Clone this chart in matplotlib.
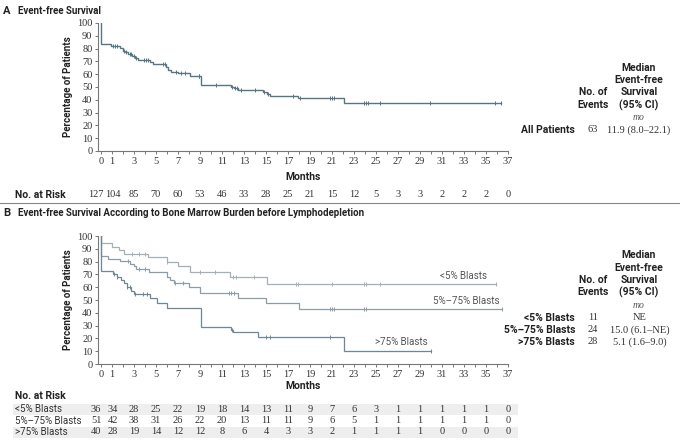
import numpy as np
import matplotlib
matplotlib.use("Agg")
import matplotlib.pyplot as plt

plt.rcParams['font.family'] = ['Roboto', 'DejaVu Sans']
SERIF = ['Liberation Serif', 'DejaVu Serif']

W, H = 680, 447

# ---- data: panel A (all patients) ----
a_times = [0, 0, 0.95, 1.7, 2.0, 2.2, 2.5, 2.8, 3.1, 3.4, 4.5, 4.7, 5.9, 6.1, 6.4, 7.0,
           8.1, 9.05, 11.8, 12.1, 12.5, 14.7, 15.1, 15.4, 17.9, 22.1, 36.4]
a_surv = [100, 83.5, 82.3, 80.2, 78.5, 77, 75.5, 74, 72.4, 71, 69.8, 67.7, 65.9, 63.3, 62,
          60.7, 58.6, 51.3, 50.2, 49, 47.4, 46.3, 44.8, 43.2, 41.3, 37.8, 37.8]
a_cens = [1.1, 1.3, 1.5, 2.1, 2.3, 2.6, 2.7, 3.0, 3.2, 3.9, 4.1, 4.3, 5.6, 5.8, 6.8, 7.3,
          7.6, 8.9, 8.95, 10.5, 11.9, 12.2, 12.4, 12.7, 14.0, 14.8, 15.2, 17.5, 18.1, 20.8,
          21.0, 21.2, 23.9, 24.1, 24.3, 25.4, 29.9, 35.8, 36.4]

# ---- data: panel B (bone marrow burden) ----
b1_times = [0, 0, 1.0, 1.6, 2.1, 4.3, 6.0, 7.0, 8.1, 11.7, 15.1, 35.9]
b1_surv = [100, 94.4, 91.7, 88.9, 86.1, 83.3, 79.9, 76.5, 72.1, 68.2, 62.7, 62.7]
b1_cens = [2.8, 3.5, 4.0, 6.0, 9.0, 10.4, 12.0, 12.3, 13.9, 17.7, 17.9, 21.0, 23.9, 24.1,
           25.4, 35.9]

b2_times = [0, 0, 0.6, 1.7, 2.6, 3.0, 3.2, 4.4, 6.0, 6.3, 6.6, 8.0, 9.0, 12.5, 15.0, 18.0, 36.5]
b2_surv = [100, 84.3, 82.4, 80.4, 78.4, 76.3, 74.3, 72.2, 68.2, 65.6, 63.5, 60.4, 55.7, 51.8,
           47.4, 43.2, 43.2]
b2_cens = [2.5, 3.5, 4.0, 6.7, 7.5, 11.6, 11.8, 12.1, 20.8, 21.0, 21.2, 23.9, 24.1, 36.5]

b3_times = [0, 0, 1.1, 1.5, 1.8, 2.1, 2.4, 2.7, 3.0, 4.5, 5.1, 6.0, 9.1, 11.8, 12.0, 14.3,
            22.1, 30.0]
b3_surv = [100, 72.5, 70.4, 68.2, 65.6, 63, 59.9, 57.3, 54.4, 51.3, 47.4, 43.5, 28.8, 26.6,
           25.3, 21.3, 10.3, 10.3]
b3_cens = [1.2, 1.5, 2.4, 2.6, 3.1, 3.8, 4.2, 11.9, 15.0, 15.4, 20.8, 30.0]

tick_months = [0] + list(range(1, 38, 2))
risk_all = [127, 104, 85, 70, 60, 53, 46, 33, 28, 25, 21, 15, 12, 5, 3, 3, 2, 2, 2, 0]
risk_lt5 = [36, 34, 28, 25, 22, 19, 18, 14, 13, 11, 9, 7, 6, 3, 1, 1, 1, 1, 1, 0]
risk_mid = [51, 42, 38, 31, 26, 22, 20, 13, 11, 11, 9, 6, 5, 1, 1, 1, 1, 1, 1, 0]
risk_gt75 = [40, 28, 19, 14, 12, 12, 8, 6, 4, 3, 3, 2, 1, 1, 1, 1, 0, 0, 0, 0]

groups = ['<5% Blasts', '5%\u201375% Blasts', '>75% Blasts']
group_events = [11, 24, 28]
group_median = ['NE', '15.0 (6.1\u2013NE)', '5.1 (1.6\u20139.0)']

fig = plt.figure(figsize=(W / 100, H / 100), dpi=100)


def px(x, y):
    """pixel position -> figure fraction"""
    return x / W, 1 - y / H


def txt(x, y, s, **kw):
    fx, fy = px(x, y)
    kw.setdefault('fontsize', 7)
    kw.setdefault('color', '#222222')
    kw.setdefault('va', 'center')
    fig.text(fx, fy, s, **kw)


def num(x, y, s, **kw):
    kw.setdefault('fontsize', 7.5)
    kw.setdefault('color', '#333333')
    kw.setdefault('ha', 'center')
    txt(x, y, s, family=SERIF, **kw)


def surv_at(times, surv, t):
    i = np.searchsorted(times, t, side='right') - 1
    return np.asarray(surv)[i]


def km(ax, times, surv, cens, color, lw=1.0):
    ax.step(times, surv, where='post', color=color, lw=lw, solid_joinstyle='miter')
    ys = [surv_at(times, surv, c) for c in cens]
    ax.plot(cens, ys, ls='none', marker='|', ms=3.5, mew=0.7, color=color)


def style_axes(ax):
    ax.set_xlim(-0.27, 37)
    ax.set_ylim(0, 100)
    for s in ['top', 'right']:
        ax.spines[s].set_visible(False)
    for s in ['left', 'bottom']:
        ax.spines[s].set_color('#777777')
        ax.spines[s].set_linewidth(0.8)
    ax.set_xticks(tick_months)
    ax.set_xticks(range(0, 38), minor=True)
    ax.set_yticks(range(0, 101, 10))
    ax.tick_params(axis='both', which='both', direction='out', length=2.5, width=0.7,
                   color='#777777', labelsize=7.5, labelcolor='#333333', pad=1.5)
    for lab in ax.get_xticklabels() + ax.get_yticklabels():
        lab.set_family(SERIF)
    ax.set_ylabel('Percentage of Patients', fontsize=7, fontweight='bold', labelpad=3,
                  color='#222222')


axw = 410 / W
axh = 128 / H

# ---- panel A ----
axA = fig.add_axes([98 / W, 1 - 151 / H, axw, axh])
style_axes(axA)
km(axA, a_times, a_surv, a_cens, '#557684', lw=1.0)

txt(3, 11, 'A', fontsize=8, fontweight='bold')
txt(18, 11, 'Event-free Survival', fontsize=7, fontweight='bold')
txt(303, 177, 'Months', fontsize=7.5, fontweight='bold', ha='center')
txt(15, 195, 'No. at Risk', fontsize=7.5, fontweight='bold')


def risk_x(i, m):
    # first two counts are pushed apart so they do not touch
    if i == 0:
        m = -0.45
    elif i == 1:
        m = 1.05
    return axA.transData.transform((m, 0))[0] / fig.dpi / (W / 100) * W


fig.canvas.draw()
for i, (m, n) in enumerate(zip(tick_months, risk_all)):
    num(risk_x(i, m), 195, str(n))

# right table A
for y, s in [(68, 'Median'), (80, 'Event-free'), (92, 'Survival'), (105, '(95% CI)')]:
    txt(639, y, s, ha='center', fontweight='bold', fontsize=7.5)
txt(593, 92, 'No. of', ha='center', fontweight='bold', fontsize=7.5)
txt(593, 105, 'Events', ha='center', fontweight='bold', fontsize=7.5)
num(639, 118, 'mo', style='italic', fontsize=7, color='#555555')
txt(575, 130, 'All Patients', ha='right', fontweight='bold', fontsize=7.5)
num(593, 130, '63')
num(639, 130, '11.9 (8.0\u201322.1)')

# separator
fig.add_artist(plt.Line2D([0, 1], [1 - 203 / H, 1 - 203 / H], color='#888888', lw=0.8))

# ---- panel B ----
axB = fig.add_axes([98 / W, 1 - 364 / H, axw, axh])
style_axes(axB)
km(axB, b1_times, b1_surv, b1_cens, '#a3b0b7', lw=0.9)
km(axB, b2_times, b2_surv, b2_cens, '#8d9ca5', lw=0.9)
km(axB, b3_times, b3_surv, b3_cens, '#6f8794', lw=0.9)

txt(3, 213, 'B', fontsize=8, fontweight='bold')
txt(18, 213, 'Event-free Survival According to Bone Marrow Burden before Lymphodepletion',
    fontsize=7, fontweight='bold')

txt(464, 276, groups[0], ha='center', fontsize=7, color='#555555')
txt(466, 301, groups[1], ha='center', fontsize=7, color='#555555')
txt(401, 342, groups[2], ha='center', fontsize=7, color='#555555')

txt(303, 386, 'Months', fontsize=7.5, fontweight='bold', ha='center')
txt(15, 396, 'No. at Risk', fontsize=7.5, fontweight='bold')

row_y = [409, 420.5, 432]
for k, y in enumerate(row_y):
    if k != 1:
        fx0, fy0 = px(13, y + 5.5)
        fig.add_artist(plt.Rectangle((fx0, fy0), 505 / W, 11 / H, color='#eeeeee', lw=0,
                                     zorder=0))
for y, g, row in zip(row_y, groups, [risk_lt5, risk_mid, risk_gt75]):
    txt(15, y, g, fontsize=7, color='#333333')
    for i, (m, n) in enumerate(zip(tick_months, row)):
        num(risk_x(i, m), y, str(n))

# right table B
for y, s in [(255, 'Median'), (268, 'Event-free'), (280, 'Survival'), (292, '(95% CI)')]:
    txt(639, y, s, ha='center', fontweight='bold', fontsize=7.5)
txt(593, 280, 'No. of', ha='center', fontweight='bold', fontsize=7.5)
txt(593, 292, 'Events', ha='center', fontweight='bold', fontsize=7.5)
num(639, 305, 'mo', style='italic', fontsize=7, color='#555555')
for y, g, e, med in zip([318, 330, 342], groups, group_events, group_median):
    txt(575, y, g, ha='right', fontweight='bold', fontsize=7.5)
    num(593, y, str(e))
    num(640, y, med)

fig.savefig('out.png', dpi=100)
